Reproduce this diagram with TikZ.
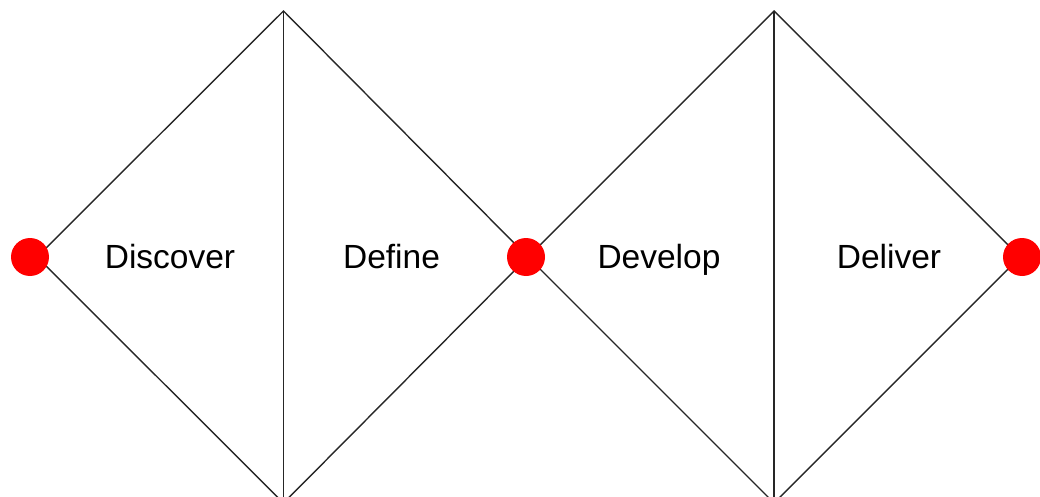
\documentclass[tikz,border=0pt]{standalone}
\usepackage{fontspec}
\setmainfont{Liberation Sans}
\begin{document}
\begin{tikzpicture}[x=1pt,y=-1pt,
  edge/.style={draw=black!85,line width=1.4pt},
  dot/.style={circle,fill=red,inner sep=0pt,minimum size=38pt},
  lbl/.style={anchor=base,font=\fontsize{33.5}{38}\selectfont,text=black}]
\useasboundingbox (0,0) rectangle (1040,497);
\clip (0,0) rectangle (1040,497);
% first diamond
\coordinate (aL) at (37,257);
\coordinate (aT) at (283.5,11);
\coordinate (aR) at (528,257);
\coordinate (aB) at (283.5,503);
% second diamond
\coordinate (bT) at (774,11);
\coordinate (bR) at (1020,257);
\coordinate (bB) at (774,503);
\draw[edge] (aL) -- (aT) -- (aR) -- (aB) -- cycle;
\draw[edge] (aT) -- (aB);
\draw[edge] (aR) -- (bT) -- (bR) -- (bB) -- cycle;
\draw[edge] (bT) -- (bB);
\node[dot] (d1) at (30,257) {};
\node[dot] (d2) at (526,257) {};
\node[dot] (d3) at (1022,257) {};
\node[lbl] (t1) at (170,268.5) {Discover};
\node[lbl] (t2) at (391.5,268.5) {Define};
\node[lbl] (t3) at (659,268.5) {Develop};
\node[lbl] (t4) at (889,268.5) {Deliver};
\end{tikzpicture}
\end{document}
